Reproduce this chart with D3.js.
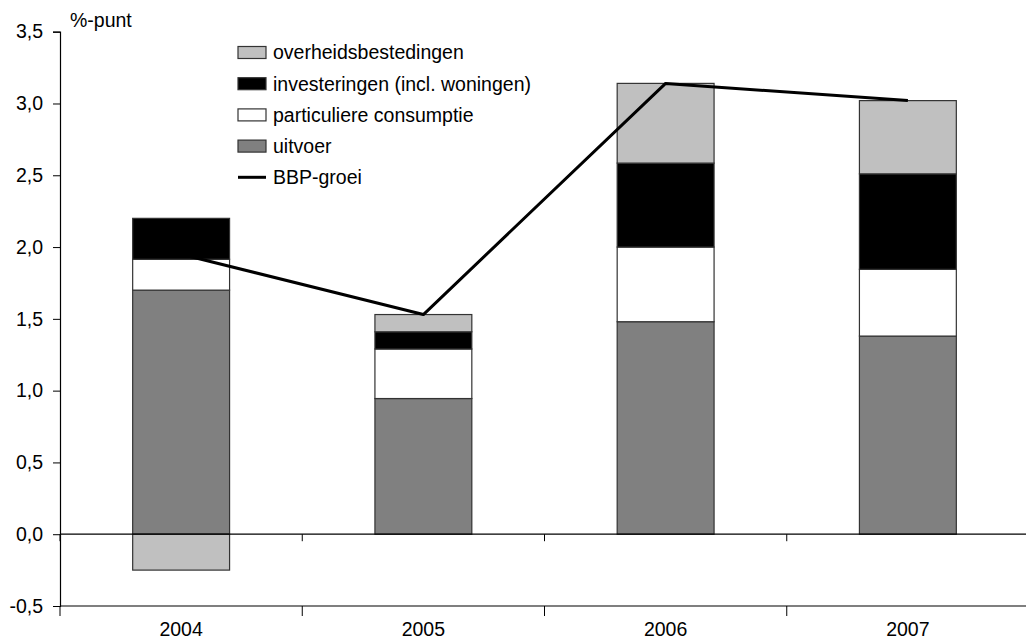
<!DOCTYPE html>
<html>
<head>
<meta charset="utf-8">
<script src="https://cdn.jsdelivr.net/npm/d3@7"></script>
<style>
  html, body { margin: 0; padding: 0; background: #fff; }
  svg { display: block; }
  text { font-family: "Liberation Sans", Arial, Helvetica, sans-serif; fill: #000; }
</style>
</head>
<body>
<svg id="chart" width="1026" height="641"></svg>
<script>
// Bijdragen aan de BBP-groei per jaar (%-punt)
const years = ["2004", "2005", "2006", "2007"];
const uitvoer = [1.70, 0.945, 1.48, 1.38];
const particuliereConsumptie = [0.215, 0.345, 0.52, 0.465];
const investeringen = [0.285, 0.12, 0.585, 0.665];
const overheidsbestedingen = [-0.25, 0.12, 0.555, 0.51];
const bbpGroei = [1.95, 1.53, 3.14, 3.02];
const yTicks = [-0.5, 0.0, 0.5, 1.0, 1.5, 2.0, 2.5, 3.0, 3.5];

const seriesDefs = [
  { key: "uitvoer", label: "uitvoer", values: uitvoer, fill: "#808080" },
  { key: "cons", label: "particuliere consumptie", values: particuliereConsumptie, fill: "#ffffff" },
  { key: "inv", label: "investeringen (incl. woningen)", values: investeringen, fill: "#000000" },
  { key: "overheid", label: "overheidsbestedingen", values: overheidsbestedingen, fill: "#c0c0c0" }
];

const rows = years.map((y, i) => {
  const r = { year: y };
  seriesDefs.forEach(s => { r[s.key] = s.values[i]; });
  return r;
});

const svg = d3.select("#chart");
const fontSize = 19.5;

const x = d3.scaleBand().domain(years).range([60, 1029]).padding(0);
const y = d3.scaleLinear().domain([-0.5, 3.5]).range([606, 31.7]);

const nl = d3.formatLocale({ decimal: ",", thousands: ".", grouping: [3], currency: ["€", ""], minus: "-" });
const fmt = nl.format(".1f");

// Gestapelde staven (positief omhoog, negatief omlaag)
const stack = d3.stack()
  .keys(seriesDefs.map(s => s.key))
  .offset(d3.stackOffsetDiverging);
const stacked = stack(rows);

const barW = x.bandwidth() * 0.4;
const barOff = (x.bandwidth() - barW) / 2;

svg.append("g").selectAll("g")
  .data(stacked)
  .join("g")
  .attr("fill", (d, i) => seriesDefs[i].fill)
  .selectAll("rect")
  .data(d => d)
  .join("rect")
  .attr("x", d => x(d.data.year) + barOff)
  .attr("width", barW)
  .attr("y", d => y(Math.max(d[0], d[1])))
  .attr("height", d => Math.abs(y(d[0]) - y(d[1])))
  .attr("stroke", "#333")
  .attr("stroke-width", 1.2);

// Nullijn met scheidingsstreepjes tussen de jaren
const bounds = years.map(d => x(d)).concat([x.range()[1]]);
const zero = svg.append("g");
zero.append("line")
  .attr("x1", x.range()[0]).attr("x2", x.range()[1])
  .attr("y1", y(0)).attr("y2", y(0))
  .attr("stroke", "#000").attr("stroke-width", 1.2);
zero.selectAll("line.tk")
  .data(bounds)
  .join("line")
  .attr("class", "tk")
  .attr("x1", d => d).attr("x2", d => d)
  .attr("y1", y(0)).attr("y2", y(0) + 7)
  .attr("stroke", "#000").attr("stroke-width", 1);

// Onderste categorie-as
const bottom = svg.append("g");
bottom.append("line")
  .attr("x1", x.range()[0]).attr("x2", x.range()[1])
  .attr("y1", y(-0.5)).attr("y2", y(-0.5))
  .attr("stroke", "#000").attr("stroke-width", 1.2);
bottom.selectAll("line.tk")
  .data(bounds)
  .join("line")
  .attr("class", "tk")
  .attr("x1", d => d).attr("x2", d => d)
  .attr("y1", y(-0.5)).attr("y2", y(-0.5) + 10)
  .attr("stroke", "#000").attr("stroke-width", 1);
bottom.selectAll("text")
  .data(years)
  .join("text")
  .attr("x", d => x(d) + x.bandwidth() / 2)
  .attr("y", 636)
  .attr("text-anchor", "middle")
  .attr("font-size", fontSize)
  .text(d => d);

// Verticale as
const yAxis = d3.axisLeft(y)
  .tickValues(yTicks)
  .tickFormat(fmt)
  .tickSize(7)
  .tickPadding(10);
const ya = svg.append("g")
  .attr("transform", `translate(${x.range()[0]},0)`)
  .call(yAxis);
ya.select(".domain").attr("stroke", "#000").attr("stroke-width", 1.2);
ya.selectAll(".tick line").attr("stroke", "#000");
ya.selectAll(".tick text")
  .attr("font-size", fontSize)
  .attr("font-family", "Liberation Sans, Arial, sans-serif")
  .attr("fill", "#000");
ya.attr("font-family", null).attr("font-size", null);

svg.append("text")
  .attr("x", 70).attr("y", 27)
  .attr("font-size", fontSize)
  .text("%-punt");

// BBP-groei lijn
const line = d3.line()
  .x((d, i) => x(years[i]) + x.bandwidth() / 2)
  .y(d => y(d));
svg.append("path")
  .datum(bbpGroei)
  .attr("d", line)
  .attr("fill", "none")
  .attr("stroke", "#000")
  .attr("stroke-width", 3)
  .attr("stroke-linejoin", "round");

// Legenda
const legendItems = [
  { label: "overheidsbestedingen", fill: "#c0c0c0", type: "rect" },
  { label: "investeringen (incl. woningen)", fill: "#000000", type: "rect" },
  { label: "particuliere consumptie", fill: "#ffffff", type: "rect" },
  { label: "uitvoer", fill: "#808080", type: "rect" },
  { label: "BBP-groei", fill: "#000", type: "line" }
];
const legend = svg.append("g");
const lg = legend.selectAll("g")
  .data(legendItems)
  .join("g")
  .attr("transform", (d, i) => `translate(238,${52.5 + i * 31.2})`);
lg.filter(d => d.type === "rect").append("rect")
  .attr("x", 0).attr("y", -6)
  .attr("width", 28).attr("height", 12)
  .attr("fill", d => d.fill)
  .attr("stroke", "#333")
  .attr("stroke-width", 1.2);
lg.filter(d => d.type === "line").append("line")
  .attr("x1", 0).attr("x2", 28)
  .attr("y1", 0).attr("y2", 0)
  .attr("stroke", "#000")
  .attr("stroke-width", 3);
lg.append("text")
  .attr("x", 35)
  .attr("y", 0)
  .attr("dy", "0.35em")
  .attr("font-size", fontSize)
  .text(d => d.label);
</script>
</body>
</html>
